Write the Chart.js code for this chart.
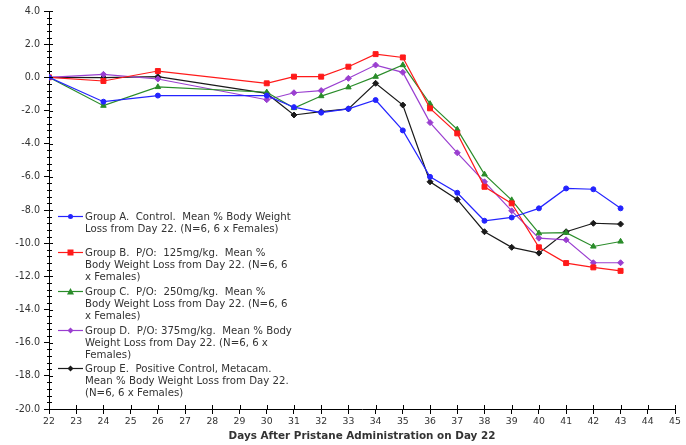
<!DOCTYPE html>
<html>
<head>
<meta charset="utf-8">
<script src="https://cdn.jsdelivr.net/npm/chart.js@4.4.0/dist/chart.umd.min.js"></script>
<style>
  html, body { margin: 0; padding: 0; background: #fff; }
  #wrap { position: relative; width: 686px; height: 445px; }
  #legend { position: absolute; left: 0; top: 0; font: 10.2px "DejaVu Sans", sans-serif; color: #333; }
  .item { position: absolute; left: 58px; }
  .item svg { position: absolute; left: 0; top: 2px; }
  .item .txt { position: absolute; left: 27px; top: 0; line-height: 12px; white-space: pre; width: 212px; overflow: hidden; }
</style>
</head>
<body>
<div id="wrap">
  <canvas id="grafico"></canvas>
  <div id="legend"></div>
</div>
<script>
// dias medidos y % de perdida de peso por grupo
const days = [22, 24, 26, 30, 31, 32, 33, 34, 35, 36, 37, 38, 39, 40, 41, 42, 43];
const groupA = [0, -1.47, -1.1, -1.1, -1.8, -2.13, -1.9, -1.37, -3.2, -6.0, -6.96, -8.65, -8.45, -7.9, -6.7, -6.75, -7.9];
const groupB = [0, -0.22, 0.38, -0.36, 0.04, 0.04, 0.64, 1.4, 1.2, -1.87, -3.38, -6.6, -7.6, -10.25, -11.2, -11.46, -11.67];
const groupC = [0, -1.71, -0.58, -0.9, -1.85, -1.13, -0.6, 0.04, 0.74, -1.6, -3.14, -5.85, -7.4, -9.4, -9.37, -10.2, -9.9];
const groupD = [0, 0.18, -0.1, -1.35, -0.93, -0.8, -0.06, 0.74, 0.3, -2.73, -4.55, -6.3, -8.05, -9.7, -9.8, -11.18, -11.18];
const groupE = [0, -0.02, 0.04, -0.97, -2.27, -2.07, -1.9, -0.36, -1.67, -6.3, -7.36, -9.31, -10.25, -10.6, -9.31, -8.8, -8.85];

const labelsA = ["Group A.  Control.  Mean % Body Weight", "Loss from Day 22. (N=6, 6 x Females)"];
const labelsB = ["Group B.  P/O:  125mg/kg.  Mean %", "Body Weight Loss from Day 22. (N=6, 6", "x Females)"];
const labelsC = ["Group C.  P/O:  250mg/kg.  Mean %", "Body Weight Loss from Day 22. (N=6, 6", "x Females)"];
const labelsD = ["Group D.  P/O: 375mg/kg.  Mean % Body", "Weight Loss from Day 22. (N=6, 6 x", "Females)"];
const labelsE = ["Group E.  Positive Control, Metacam.", "Mean % Body Weight Loss from Day 22.", "(N=6, 6 x Females)"];

const xTitle = "Days After Pristane Administration on Day 22";

const toPoints = (serie) => serie.map((v, i) => ({ x: days[i], y: v }));

const grupos = [
  { lines: labelsA, data: groupA, color: "#2424ff", style: "circle", radius: 2.5 },
  { lines: labelsB, data: groupB, color: "#ff1a1a", style: "rect", radius: 3.5 },
  { lines: labelsC, data: groupC, color: "#2a8c2a", style: "triangle", radius: 3.2 },
  { lines: labelsD, data: groupD, color: "#9a3fd0", style: "rectRot", radius: 3 },
  { lines: labelsE, data: groupE, color: "#1a1a1a", style: "rectRot", radius: 3 },
];
const legendTops = [211, 247, 286, 325, 363];

// ticks en cruz y ticks menores (cada 0.4 en y)
const ticksPlugin = {
  id: "ticksCruz",
  afterDraw(chart) {
    const ctx = chart.ctx;
    const x = chart.scales.x;
    const y = chart.scales.y;
    const area = chart.chartArea;
    ctx.save();
    ctx.strokeStyle = "#000";
    ctx.lineWidth = 1;
    ctx.beginPath();
    for (let v = -20; v <= 4.0001; v += 0.4) {
      const py = Math.round(y.getPixelForValue(v)) + 0.5;
      const mayor = Math.abs(v / 2 - Math.round(v / 2)) < 0.001;
      if (mayor) {
        ctx.moveTo(area.left, py);
        ctx.lineTo(area.left + 4, py);
      } else {
        ctx.moveTo(area.left - 2, py);
        ctx.lineTo(area.left + 3, py);
      }
    }
    for (let d = 22; d <= 45; d++) {
      const px = Math.round(x.getPixelForValue(d)) + 0.5;
      ctx.moveTo(px, area.bottom);
      ctx.lineTo(px, area.bottom - 4);
    }
    ctx.stroke();
    ctx.restore();
  },
};

const ctx = document.getElementById("grafico").getContext("2d");

const chart = new Chart(ctx, {
  type: "line",
  data: {
    datasets: grupos.map((g) => ({
      label: g.lines.join(" "),
      data: toPoints(g.data),
      borderColor: g.color,
      backgroundColor: g.color,
      borderWidth: 1.2,
      pointStyle: g.style,
      pointRadius: g.radius,
      pointBorderWidth: 1,
      tension: 0,
    })),
  },
  plugins: [ticksPlugin],
  options: {
    responsive: true,
    maintainAspectRatio: false,
    animation: false,
    layout: { padding: { top: 11, right: 11, left: 0, bottom: 0 } },
    plugins: { legend: { display: false }, tooltip: { enabled: false } },
    scales: {
      x: {
        type: "linear",
        min: 22,
        max: 45,
        ticks: { stepSize: 1, color: "#333", padding: 2, font: { family: "DejaVu Sans", size: 9.3 }, maxRotation: 0, autoSkip: false },
        grid: { drawOnChartArea: false, tickLength: 5, color: "#000" },
        border: { color: "#000", width: 1 },
        title: { display: true, text: xTitle, color: "#333", font: { family: "DejaVu Sans", size: 10.4, weight: "bold" }, padding: { top: 0, bottom: 2 } },
        afterFit(scale) { scale.height = 36; },
      },
      y: {
        min: -20,
        max: 4,
        ticks: { stepSize: 2, color: "#333", padding: 4, font: { family: "DejaVu Sans", size: 9.6 }, callback: (v) => v.toFixed(1) },
        grid: { drawOnChartArea: false, tickLength: 5, color: "#000" },
        border: { color: "#000", width: 1 },
        afterFit(scale) { scale.width = 49; },
      },
    },
  },
});

// leyenda en html dentro del area del grafico
const $legend = document.getElementById("legend");
grupos.forEach((g, i) => {
  const item = document.createElement("div");
  item.className = "item";
  item.style.top = legendTops[i] + "px";
  let marca = "";
  if (g.style === "rect") marca = `<rect x="9.5" y="0.5" width="6" height="6" fill="${g.color}"/>`;
  else if (g.style === "triangle") marca = `<polygon points="12.5,0 16,6.5 9,6.5" fill="${g.color}"/>`;
  else if (g.style === "rectRot") marca = `<polygon points="12.5,0.5 15.5,3.5 12.5,6.5 9.5,3.5" fill="${g.color}"/>`;
  else marca = `<circle cx="12.5" cy="3.5" r="2.5" fill="${g.color}"/>`;
  item.innerHTML =
    `<svg width="26" height="8"><line x1="0" y1="3.5" x2="25" y2="3.5" stroke="${g.color}" stroke-width="1.2"/>${marca}</svg>` +
    `<div class="txt">${g.lines.join("\n")}</div>`;
  $legend.appendChild(item);
});
</script>
</body>
</html>
